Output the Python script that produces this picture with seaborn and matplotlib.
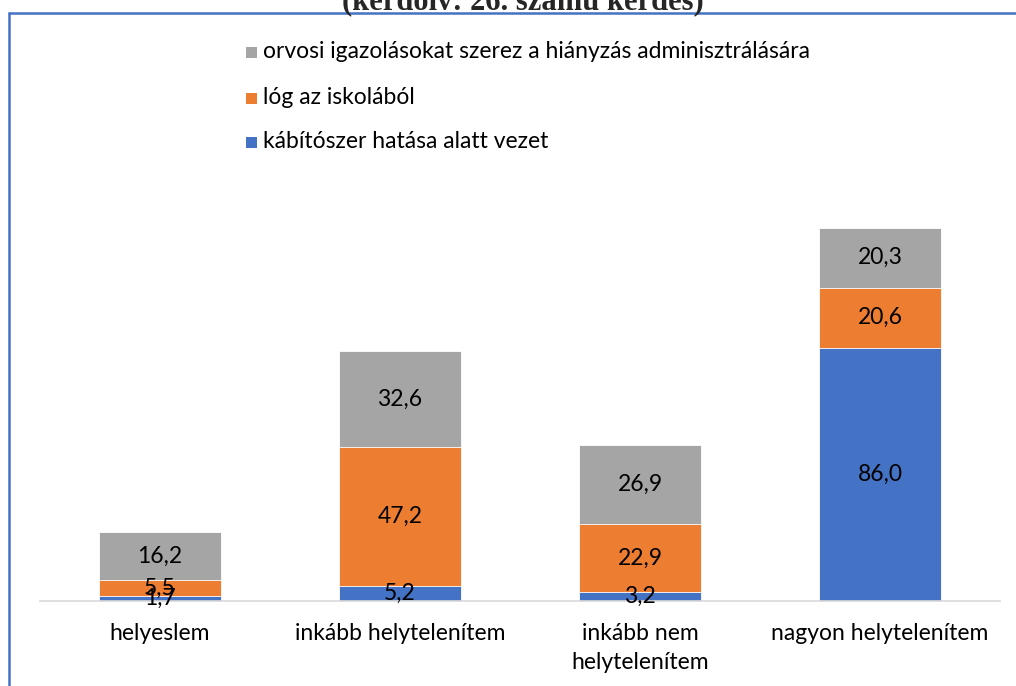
import matplotlib

matplotlib.use("Agg")
import matplotlib.pyplot as plt
import pandas as pd
import seaborn as sns
from matplotlib.lines import Line2D
from matplotlib.patches import Rectangle

categories = ["helyeslem", "inkább helytelenítem", "inkább nem\nhelytelenítem", "nagyon helytelenítem"]
kabitoszer = [1.7, 5.2, 3.2, 86.0]
log = [5.5, 47.2, 22.9, 20.6]
orvosi = [16.2, 32.6, 26.9, 20.3]

series_names = [
    "kábítószer hatása alatt vezet",
    "lóg az iskolából",
    "orvosi igazolásokat szerez a hiányzás adminisztrálására",
]
colors = ["#4472C4", "#ED7D31", "#A5A5A5"]
title = "(kérdőív: 26. számú kérdés)"

FONT = ["Lato", "DejaVu Sans"]
FS = 16.5


def main() -> None:
    sns.set_theme(style="white")
    plt.rcParams["font.family"] = FONT

    df = pd.DataFrame(
        {"kategoria": categories, "kab": kabitoszer, "log": log, "orv": orvosi}
    )
    df["c1"] = df["kab"]
    df["c2"] = df["kab"] + df["log"]
    df["c3"] = df["c2"] + df["orv"]

    fig = plt.figure(figsize=(10.16, 6.86), dpi=100)
    ax = fig.add_axes([0.0394, 0.1239, 0.945, 0.643])

    # stacked by overlaying cumulative totals, tallest first
    for col, color in zip(["c3", "c2", "c1"], colors[::-1]):
        sns.barplot(
            data=df, x="kategoria", y=col, color=color, width=0.51,
            edgecolor="white", linewidth=0.6, saturation=1, ax=ax,
        )

    for i in range(len(categories)):
        bottoms = [0, df["c1"][i], df["c2"][i]]
        for b, v in zip(bottoms, [kabitoszer[i], log[i], orvosi[i]]):
            ax.text(i, b + v / 2, f"{v:.1f}".replace(".", ","), ha="center",
                    va="center", fontsize=FS, color="#000000")

    ax.set_ylim(0, 150)
    ax.set_xlim(-0.5, 3.5)
    ax.set_xlabel("")
    ax.set_ylabel("")
    ax.set_yticks([])
    for side in ["left", "right", "top"]:
        ax.spines[side].set_visible(False)
    ax.spines["bottom"].set_color("#D9D9D9")
    ax.spines["bottom"].set_linewidth(1.2)
    ax.tick_params(axis="x", length=0, pad=16, labelsize=FS, labelcolor="#000000")
    for lbl in ax.get_xticklabels():
        lbl.set_verticalalignment("top")
        lbl.set_linespacing(1.45)

    # legend, reversed order as in the original
    legend_y = [52, 98, 142]
    for name, color, ypix in zip(series_names[::-1], colors[::-1], legend_y):
        yf = 1 - ypix / 686
        fig.add_artist(Rectangle((246 / 1016, yf - 5.5 / 686), 11 / 1016, 11 / 686,
                                 transform=fig.transFigure, color=color, lw=0))
        fig.text(263 / 1016, yf, name, ha="left", va="center", fontsize=FS,
                 color="#000000")

    fig.text(523 / 1016, 1 - 9 / 686, title, ha="center", va="baseline", fontsize=22,
             fontweight="bold", family=["Liberation Serif", "DejaVu Serif"])

    border = "#4472C4"
    fig.add_artist(Line2D([9 / 1016, 9 / 1016], [0, 1 - 12.5 / 686],
                          transform=fig.transFigure, color=border, lw=1.8))
    fig.add_artist(Line2D([9 / 1016, 1], [1 - 12.5 / 686, 1 - 12.5 / 686],
                          transform=fig.transFigure, color=border, lw=1.8))

    fig.savefig("out.png", dpi=100)
    plt.close(fig)


if __name__ == "__main__":
    main()
